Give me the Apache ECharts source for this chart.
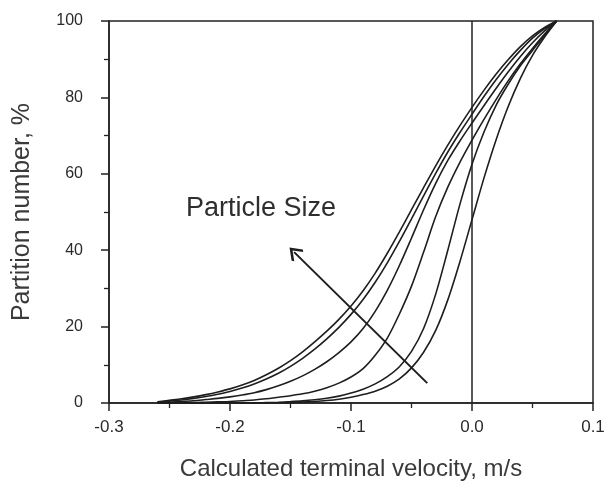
<!DOCTYPE html>
<html>
<head>
<meta charset="utf-8">
<script src="https://cdn.jsdelivr.net/npm/echarts@6/dist/echarts.min.js"></script>
<style>
html,body{margin:0;padding:0;background:#fff;}
#chart{width:614px;height:489px;}
</style>
</head>
<body>
<div id="chart"></div>
<script>
// Calculated terminal velocity (m/s) at which curves are sampled
var velocity = [-0.26, -0.25, -0.24, -0.23, -0.22, -0.21, -0.20, -0.19, -0.18, -0.17, -0.16, -0.15, -0.14, -0.13, -0.12, -0.11, -0.10, -0.09, -0.08, -0.07, -0.06, -0.05, -0.04, -0.03, -0.02, -0.01, 0, 0.01, 0.02, 0.03, 0.04, 0.05, 0.06, 0.07];
// Partition number (%) for each particle size curve (largest -> smallest)
var curveA = [0.3, 0.7, 1.1, 1.6, 2.2, 2.9, 3.7, 4.7, 5.9, 7.4, 9.1, 11.1, 13.4, 16, 18.8, 21.9, 25.4, 29.4, 34, 39.2, 44.8, 50.6, 56.4, 62.1, 67.5, 72.6, 77.4, 81.9, 86.1, 89.9, 93.3, 96.1, 98.3, 100];
var curveB = [0.2, 0.5, 0.8, 1.2, 1.7, 2.3, 3.0, 3.9, 5.0, 6.3, 7.8, 9.6, 11.7, 14.1, 16.8, 19.8, 23.2, 27.1, 31.6, 36.7, 42.3, 48.2, 54.2, 60.1, 65.7, 70.8, 75.6, 80.3, 84.7, 88.7, 92.3, 95.5, 98, 100];
var curveC = [0, 0.2, 0.4, 0.6, 0.9, 1.2, 1.6, 2.1, 2.7, 3.5, 4.5, 5.7, 7.1, 8.8, 10.8, 13.2, 16, 19.5, 24, 29.5, 36, 43.2, 50.6, 57.5, 63.5, 68.6, 73.3, 77.9, 82.4, 86.7, 90.7, 94.3, 97.4, 100];
var curveD = [0, 0, 0.1, 0.1, 0.2, 0.3, 0.4, 0.6, 0.8, 1.1, 1.5, 1.9, 2.4, 3.1, 4.0, 5.2, 6.8, 9, 12.5, 17, 23.3, 30.6, 39.5, 48.8, 56.5, 63, 68.8, 74.3, 79.5, 84.4, 88.8, 92.8, 96.6, 100];
var curveE = [0, 0, 0, 0, 0, 0, 0, 0, 0, 0.1, 0.2, 0.35, 0.55, 0.85, 1.25, 1.8, 2.6, 3.6, 5.0, 6.9, 9.5, 13.5, 19.5, 28.5, 40, 52, 62.5, 71, 78, 83.5, 88.3, 92.3, 96.3, 100];
var curveF = [0, 0, 0, 0, 0, 0, 0, 0, 0, 0, 0, 0.1, 0.25, 0.4, 0.65, 1.0, 1.5, 2.2, 3.1, 4.4, 6.3, 9.2, 13.3, 19, 27, 37, 48, 59, 69, 77.7, 85, 91, 95.8, 100];
var curves = [curveA, curveB, curveC, curveD, curveE, curveF];
// Vertical reference line at zero velocity
var zeroLineX = [0, 0];
var zeroLineY = [0, 100];
// Annotation arrow (data units): tail and head
var arrowTail = [-0.037, 5.2];
var arrowHead = [-0.147, 39.5];
var annotationText = 'Particle Size';
// Axis ticks
var xTicks = [-0.3, -0.2, -0.1, 0.0, 0.1];
var yTicks = [0, 20, 40, 60, 80, 100];

var FONT = '"Liberation Sans", Arial, Helvetica, sans-serif';
var INK = '#1e1e1e';

function pairs(xs, ys) {
  return xs.map(function (x, i) { return [x, ys[i]]; });
}

var series = curves.map(function (c) {
  return {
    type: 'line',
    data: pairs(velocity, c),
    showSymbol: false,
    smooth: 0.3,
    lineStyle: { color: INK, width: 1.6 },
    silent: true,
    z: 3
  };
});

series.push({
  type: 'line',
  data: pairs(zeroLineX, zeroLineY),
  showSymbol: false,
  lineStyle: { color: '#222', width: 1.5 },
  silent: true,
  z: 2,
  markLine: {
    silent: true,
    symbol: ['none', 'path://M0,0 L7,8 L5.6,9.6 L0,3.2 L-5.6,9.6 L-7,8 Z'],
    symbolSize: [16, 13],
    label: { show: false },
    lineStyle: { color: INK, width: 2, type: 'solid' },
    emphasis: { disabled: true },
    data: [[{ coord: arrowTail }, { coord: arrowHead }]]
  }
});

var chart = echarts.init(document.getElementById('chart'), null, { renderer: 'canvas' });
chart.setOption({
  animation: false,
  backgroundColor: '#ffffff',
  grid: {
    left: 109, right: 21, top: 21, bottom: 86,
    show: true, borderColor: '#222', borderWidth: 1.5, backgroundColor: 'transparent'
  },
  xAxis: {
    type: 'value',
    min: xTicks[0], max: xTicks[xTicks.length - 1], interval: 0.1,
    name: 'Calculated terminal velocity, m/s',
    nameLocation: 'middle',
    nameGap: 54,
    nameTextStyle: { fontFamily: FONT, fontSize: 24, color: '#3a3a3a' },
    axisLine: { show: true, onZero: false, lineStyle: { color: '#222', width: 1.5 } },
    axisTick: { show: true, inside: false, length: 8, lineStyle: { color: '#222', width: 1.5 } },
    minorTick: { show: true, splitNumber: 2, length: 5, lineStyle: { color: '#222', width: 1.3 } },
    splitLine: { show: false },
    axisLabel: {
      margin: 16, fontFamily: FONT, fontSize: 17, color: '#2a2a2a',
      formatter: function (v) { return (Math.round(v * 10) / 10).toFixed(1); }
    }
  },
  yAxis: {
    type: 'value',
    min: yTicks[0], max: yTicks[yTicks.length - 1], interval: 20,
    name: 'Partition number, %',
    nameLocation: 'middle',
    nameGap: 74,
    nameTextStyle: { fontFamily: FONT, fontSize: 25, color: '#3a3a3a' },
    axisLine: { show: true, onZero: false, lineStyle: { color: '#222', width: 1.5 } },
    axisTick: { show: true, inside: false, length: 8, lineStyle: { color: '#222', width: 1.5 } },
    minorTick: { show: true, splitNumber: 2, length: 5, lineStyle: { color: '#222', width: 1.3 } },
    splitLine: { show: false },
    axisLabel: { margin: 26, fontFamily: FONT, fontSize: 16, color: '#2a2a2a' }
  },
  graphic: [{
    type: 'text',
    left: 186,
    top: 195,
    silent: true,
    style: { text: annotationText, font: '27px ' + FONT, fill: '#2e2e2e' }
  }],
  series: series
});
</script>
</body>
</html>
